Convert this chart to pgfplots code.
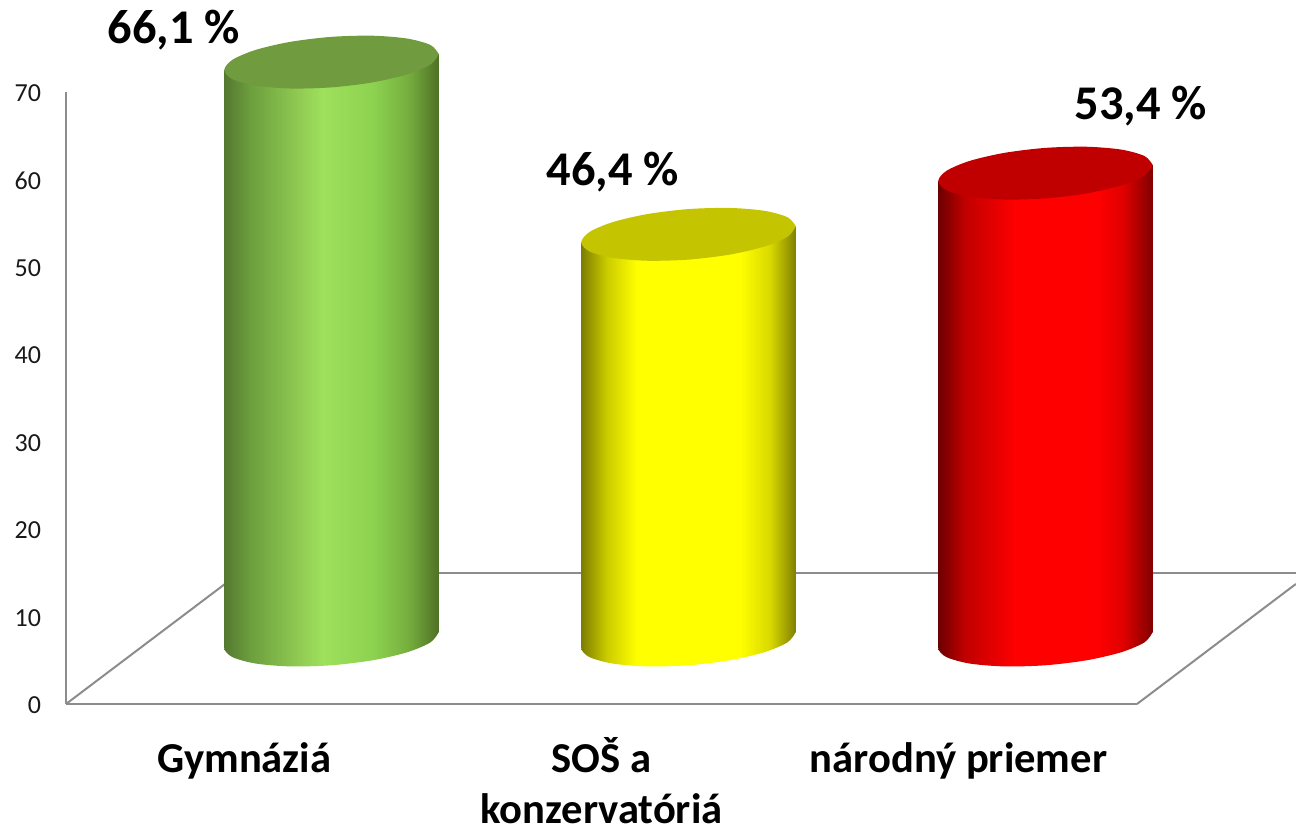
\documentclass[border=0pt]{standalone}
\usepackage{fontspec}
\setmainfont{Carlito}
\usepackage{pgfplots}
\usepackage{pgfplotstable}
\pgfplotsset{compat=1.18}

% 1 px of the reference = 0.5pt here; the shading box runs from 25bp to 75bp
\definecolor{axisgray}{RGB}{140,140,140}
\definecolor{greencap}{RGB}{112,155,62}
\definecolor{yellowcap}{RGB}{196,196,0}
\definecolor{redcap}{RGB}{192,0,0}
\pgfdeclarehorizontalshading{greenbar}{100bp}{
  rgb(0bp)=(0.33,0.47,0.19); rgb(25bp)=(0.33,0.47,0.19); rgb(31bp)=(0.42,0.62,0.24); rgb(42bp)=(0.56,0.79,0.32);
  rgb(48bp)=(0.62,0.88,0.36); rgb(60bp)=(0.55,0.82,0.31); rgb(68bp)=(0.46,0.68,0.24);
  rgb(75bp)=(0.31,0.44,0.15); rgb(100bp)=(0.31,0.44,0.15)}
\pgfdeclarehorizontalshading{yellowbar}{100bp}{
  rgb(0bp)=(0.49,0.49,0); rgb(25bp)=(0.49,0.49,0); rgb(31bp)=(0.80,0.80,0); rgb(38bp)=(1,1,0);
  rgb(62bp)=(1,1,0); rgb(69bp)=(0.85,0.85,0); rgb(75bp)=(0.50,0.50,0); rgb(100bp)=(0.50,0.50,0)}
\pgfdeclarehorizontalshading{redbar}{100bp}{
  rgb(0bp)=(0.42,0,0); rgb(25bp)=(0.42,0,0); rgb(31bp)=(0.75,0,0); rgb(43bp)=(1,0,0);
  rgb(62bp)=(1,0,0); rgb(68bp)=(0.88,0,0); rgb(75bp)=(0.50,0,0); rgb(100bp)=(0.50,0,0)}

\tikzset{
  cyl/.style={xshift=43.5pt, yshift=32pt},
  lbl/.style={font=\bfseries\fontsize{24.2}{28}\selectfont, anchor=center},
}
\newcommand{\st}{\rule{0pt}{18pt}}

% one turn round the top or base of a cylinder, around its centre
\pgfplotstableread{
dx dy
0.3005 0.915
0.2776 1.951
0.2125 2.691
0.1150 3.020
0 2.890
-0.1150 2.320
-0.2125 1.397
-0.2776 0.261
-0.3005 -0.915
-0.2776 -1.951
-0.2125 -2.691
-0.1150 -3.020
0 -2.890
0.1150 -2.320
0.2125 -1.397
0.2776 -0.261
0.3005 0.915
}\ringtable

% the side of a cylinder: h=1 stands at the value, h=0 on the floor
\pgfplotstableread{
dx dy h
-0.3005 -0.915 0
0.3005 0.915 0
0.3005 0.915 1
-0.3005 -0.915 1
-0.3005 -0.915 0
}\sidetable

% #1 category, #2 value, #3 shading, #4 colour of the top
\newcommand{\cylinder}[4]{
  \addplot[draw=none, shading=#3, smooth, cyl] table[x expr=#1+\thisrow{dx}, y expr=\thisrow{dy}] {\ringtable};
  \addplot[draw=none, shading=#3, cyl] table[x expr=#1+\thisrow{dx}, y expr=\thisrow{dy}+\thisrow{h}*#2] {\sidetable};
  \addplot[draw=none, fill=#4, smooth, cyl] table[x expr=#1+\thisrow{dx}, y expr=#2+\thisrow{dy}] {\ringtable};
}

\begin{document}
\begin{tikzpicture}
\useasboundingbox (0,0) rectangle (648pt,413.5pt);
\begin{axis}[
    at={(33pt,61.5pt)},
    anchor=south west,
    scale only axis,
    width=535.5pt,
    height=306pt,
    xmin=-0.5, xmax=2.5,
    ymin=0, ymax=70,
    clip=false,
    axis y line=left,
    axis x line=bottom,
    axis line style={-, draw=axisgray, line width=1pt},
    major tick length=0pt,
    xtick={0,1,2},
    xticklabels={\st Gymnáziá, {\st SOŠ a\\konzervatóriá}, \st národný priemer},
    ytick={0,10,...,70},
    /pgf/number format/assume math mode=true,
    yticklabel style={font=\fontsize{13}{15}\selectfont, text=black!90, xshift=-9pt, yshift=-0.6pt},
    xticklabel style={font=\bfseries\fontsize{21.3}{25.5}\selectfont, align=center, anchor=north, inner sep=0pt, yshift=-16pt},
]
% floor of the 3D box
\addplot[axisgray, line width=1.3pt] coordinates {(0.3,14.98) (2.945,14.98)};
\addplot[axisgray, line width=1pt] coordinates {(-0.5,0) (-0.0546,13.73)};
\addplot[axisgray, line width=1pt] coordinates {(2.5,0) (2.945,13.73)};

\cylinder{0}{66.1}{greenbar}{greencap}
\cylinder{1}{46.4}{yellowbar}{yellowcap}
\cylinder{2}{53.4}{redbar}{redcap}

\node[lbl] at (axis cs:-0.1975,77.1) {66,1 \%};
\node[lbl] at (axis cs:1.032,60.86) {46,4 \%};
\node[lbl] at (axis cs:2.511,68.4) {53,4 \%};
\end{axis}
\end{tikzpicture}
\end{document}
